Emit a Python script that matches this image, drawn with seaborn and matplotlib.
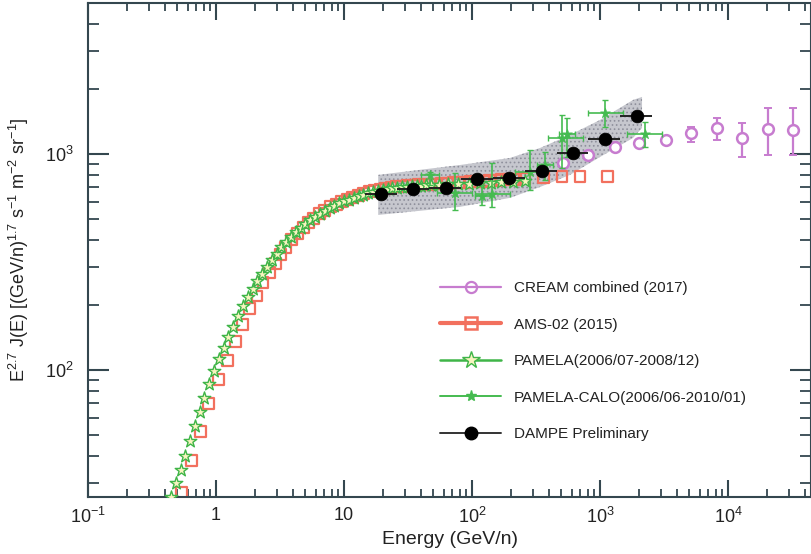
import numpy as np
import pandas as pd
import matplotlib
matplotlib.use("Agg")
import matplotlib.pyplot as plt
from matplotlib.lines import Line2D
from matplotlib.ticker import LogLocator, FixedLocator, FixedFormatter, NullFormatter
import seaborn as sns

# ---------------- data ----------------
# CREAM combined (2017)
cream_e = [514, 806, 1309, 2018, 3281, 5146, 8203, 12850, 20540, 32200]
cream_j = [908, 990, 1077, 1124, 1161, 1251, 1319, 1186, 1305, 1292]
cream_lo = [885, 965, 1050, 1095, 1130, 1140, 1161, 968, 990, 990]
cream_hi = [930, 1015, 1105, 1155, 1195, 1334, 1468, 1392, 1633, 1633]

# AMS-02 (2015)
ams_e = [0.54, 0.64, 0.76, 0.88, 1.05, 1.24, 1.41, 1.62, 1.84, 2.09, 2.33, 2.6, 2.9,
         3.2, 3.5, 3.9, 4.3, 4.8, 5.3, 5.8, 6.4, 7.1, 7.9, 8.7, 9.6, 10.6, 11.7,
         12.9, 14.2, 15.7, 17.3, 19.1, 21.1, 23.3, 25.7, 28.4, 31.4, 34.7, 38.4,
         42.5, 47.0, 52.1, 57.8, 64.1, 71.2, 79.1, 88.0, 98, 109, 122, 136, 152,
         171, 193, 218, 259, 359, 505, 698, 1135]
ams_j = [27, 38, 52, 70, 90, 111, 136, 163, 192, 220, 253, 282, 312,
         342, 370, 400, 428, 458, 483, 505, 528, 549, 569, 586, 602, 617, 631,
         644, 656, 667, 677, 686, 694, 700, 705, 709, 713, 716, 719,
         721, 723, 726, 728, 731, 734, 737, 740, 743, 746, 749, 752, 755,
         758, 761, 765, 770, 778, 783, 785, 790]

# PAMELA (2006/07-2008/12)
pam_e = [0.445, 0.485, 0.53, 0.575, 0.63, 0.685, 0.745, 0.81, 0.885, 0.965, 1.05,
         1.15, 1.25, 1.36, 1.49, 1.62, 1.77, 1.93, 2.1, 2.29, 2.5, 2.72, 2.97,
         3.24, 3.53, 3.85, 4.2, 4.58, 5.0, 5.45, 5.94, 6.48, 7.07, 7.71, 8.41,
         9.17, 10.0, 10.9, 11.9, 13.0, 14.2, 15.5, 16.9, 18.4, 20.1, 21.9, 23.9,
         26.1, 28.4, 31.0, 33.8, 36.9, 40.2, 43.9, 47.9, 55, 65, 78, 95, 115,
         140, 170, 210, 260]
pam_j = [25.8, 30, 34.5, 40, 47, 55, 64, 74, 86, 99, 112,
         127, 142, 158, 178, 198, 218, 237, 257, 278, 300, 323, 346,
         369, 392, 414, 435, 456, 476, 495, 513, 530, 546, 562, 576,
         590, 603, 615, 627, 638, 648, 657, 666, 674, 681, 687, 692,
         697, 701, 705, 708, 711, 714, 716, 718, 720, 723, 726, 729, 733,
         737, 740, 743, 746]

# PAMELA-CALO (2006/06-2010/01)
calo_e = [46.9, 73.6, 120, 143, 284, 372, 505, 552, 1094, 2249]
calo_j = [800, 659, 640, 653, 826, 889, 1186, 1238, 1549, 1238]
calo_lo = [718, 551, 581, 569, 681, 758, 861, 968, 1334, 1077]
calo_hi = [826, 817, 718, 908, 1044, 1021, 1517, 1468, 1778, 1406]
calo_elo = [40, 53.3, 105, 105, 217, 320, 393, 480, 806, 1626]
calo_ehi = [55, 100, 140, 198, 372, 430, 736, 640, 1514, 3050]

# DAMPE Preliminary
dampe_e = [19.5, 34.6, 62.6, 109, 194, 352, 615, 1094, 1945]
dampe_j = [653, 689, 696, 766, 774, 834, 1011, 1173, 1499]
dampe_elo = [14.6, 26, 46, 82, 146, 259, 461, 806, 1432]
dampe_ehi = [26, 46, 82, 146, 259, 461, 806, 1432, 2547]

# DAMPE systematic band
band_e = [18.5, 80.5, 198, 340, 583, 1000, 1811, 2130]
band_lo = [522, 569, 626, 703, 800, 968, 1186, 1319]
band_hi = [800, 889, 958, 1066, 1225, 1437, 1778, 1837]

labels = ["CREAM combined (2017)", "AMS-02 (2015)", "PAMELA(2006/07-2008/12)",
          "PAMELA-CALO(2006/06-2010/01)", "DAMPE Preliminary"]

# ---------------- style ----------------
sns.set_theme(style="ticks")
plt.rcParams["font.family"] = ["Liberation Sans", "DejaVu Sans"]
plt.rcParams["mathtext.fontset"] = "custom"
plt.rcParams["mathtext.rm"] = "Liberation Sans"
plt.rcParams["mathtext.it"] = "Liberation Sans:italic"
plt.rcParams["mathtext.default"] = "regular"
plt.rcParams["hatch.linewidth"] = 0.7

c_cream = "#c77ccf"
c_ams = "#f2705e"
c_pam = "#3fb548"
c_pamfc = "#f8f4c0"
c_calo = "#45bb50"
c_dampe = "black"
c_axis = "#34474f"

fig = plt.figure(figsize=(8.11, 5.54), dpi=100)
ax = fig.add_axes([88 / 811, 1 - 497 / 554, (811 - 88) / 811, (497 - 3) / 554])
ax.set_xscale("log")
ax.set_yscale("log")

# band
ax.fill_between(band_e, band_lo, band_hi, facecolor="#c6c7ce", edgecolor="#8f909c",
                hatch="....", linewidth=0, zorder=1)

# AMS-02
ams = pd.DataFrame({"E": ams_e, "J": ams_j})
sns.scatterplot(data=ams, x="E", y="J", marker="s", s=62, facecolor="none",
                edgecolor=c_ams, linewidth=1.6, ax=ax, zorder=2, legend=False)

# PAMELA
pam = pd.DataFrame({"E": pam_e, "J": pam_j})
sns.scatterplot(data=pam, x="E", y="J", marker="*", s=90, facecolor=c_pamfc,
                edgecolor=c_pam, linewidth=1.0, ax=ax, zorder=3, legend=False)

# CREAM
cream = pd.DataFrame({"E": cream_e, "J": cream_j})
ax.errorbar(cream_e, cream_j,
            yerr=[np.array(cream_j) - np.array(cream_lo), np.array(cream_hi) - np.array(cream_j)],
            fmt="none", ecolor=c_cream, elinewidth=1.6, capsize=3, capthick=1.4, zorder=4)
sns.scatterplot(data=cream, x="E", y="J", marker="o", s=60, facecolor="white",
                edgecolor=c_cream, linewidth=1.8, ax=ax, zorder=5, legend=False)

# PAMELA-CALO
calo = pd.DataFrame({"E": calo_e, "J": calo_j})
ax.errorbar(calo_e, calo_j,
            xerr=[np.array(calo_e) - np.array(calo_elo), np.array(calo_ehi) - np.array(calo_e)],
            yerr=[np.array(calo_j) - np.array(calo_lo), np.array(calo_hi) - np.array(calo_j)],
            fmt="none", ecolor=c_calo, elinewidth=1.2, capsize=2.5, capthick=1.0, zorder=6)
sns.scatterplot(data=calo, x="E", y="J", marker="*", s=55, color=c_calo,
                edgecolor=c_calo, linewidth=0.5, ax=ax, zorder=7, legend=False)

# DAMPE
dampe = pd.DataFrame({"E": dampe_e, "J": dampe_j})
ax.errorbar(dampe_e, dampe_j,
            xerr=[np.array(dampe_e) - np.array(dampe_elo), np.array(dampe_ehi) - np.array(dampe_e)],
            fmt="none", ecolor="#222222", elinewidth=1.4, capsize=0, zorder=8)
sns.scatterplot(data=dampe, x="E", y="J", marker="o", s=85, color=c_dampe,
                edgecolor=c_dampe, linewidth=0.5, ax=ax, zorder=9, legend=False)

# ---------------- axes ----------------
ax.set_xlim(0.1, 10 ** (-1 + (811 - 88) / 128))
ax.set_ylim(25.8, 5000)

ax.xaxis.set_major_locator(FixedLocator([0.1, 1, 10, 100, 1000, 10000]))
ax.xaxis.set_major_formatter(FixedFormatter(["$10^{-1}$", "1", "10", "$10^{2}$", "$10^{3}$", "$10^{4}$"]))
ax.xaxis.set_minor_locator(LogLocator(base=10, subs=np.arange(2, 10), numticks=20))
ax.xaxis.set_minor_formatter(NullFormatter())
ax.yaxis.set_major_locator(FixedLocator([100, 1000]))
ax.yaxis.set_major_formatter(FixedFormatter(["$10^{2}$", "$10^{3}$"]))
ax.yaxis.set_minor_locator(LogLocator(base=10, subs=np.arange(2, 10), numticks=20))
ax.yaxis.set_minor_formatter(NullFormatter())

for sp in ax.spines.values():
    sp.set_color(c_axis)
    sp.set_linewidth(1.5)
ax.tick_params(which="both", direction="in", top=True, right=True, color=c_axis,
               labelcolor="#222222", labelsize=13)
ax.tick_params(axis="x", which="major", length=12, width=1.5, pad=7)
ax.tick_params(axis="x", which="minor", length=6, width=1.3)
ax.tick_params(axis="y", which="major", length=15, width=1.5, pad=10)
ax.tick_params(axis="y", which="minor", length=8, width=1.3)

ax.set_xlabel("Energy (GeV/n)", fontsize=14, color="#222222", labelpad=3)
ax.set_ylabel("E$^{2.7}$ J(E) [(GeV/n)$^{1.7}$ s$^{-1}$ m$^{-2}$ sr$^{-1}$]",
              fontsize=13, color="#222222")
ax.yaxis.set_label_coords((31 - 88) / 723, 0.5)

# ---------------- legend ----------------
handles = [
    Line2D([], [], color=c_cream, lw=1.6, marker="o", ms=8, mfc="none", mec=c_cream, mew=1.6),
    Line2D([], [], color=c_ams, lw=3.0, marker="s", ms=9, mfc="none", mec=c_ams, mew=1.8),
    Line2D([], [], color=c_pam, lw=1.8, marker="*", ms=13, mfc=c_pamfc, mec=c_pam, mew=1.0),
    Line2D([], [], color=c_calo, lw=1.4, marker="*", ms=8, mfc=c_calo, mec=c_calo),
    Line2D([], [], color="#333333", lw=1.4, marker="o", ms=9, mfc="black", mec="black"),
]
ax.legend(handles, labels, loc="upper left", bbox_to_anchor=((440 - 88) / 723, 1 - (281 - 3) / 494),
          frameon=False, fontsize=11, handlelength=4.0, handletextpad=0.85,
          labelspacing=1.48, borderpad=0, borderaxespad=0, labelcolor="#222222")

fig.savefig("out.png", dpi=100)
